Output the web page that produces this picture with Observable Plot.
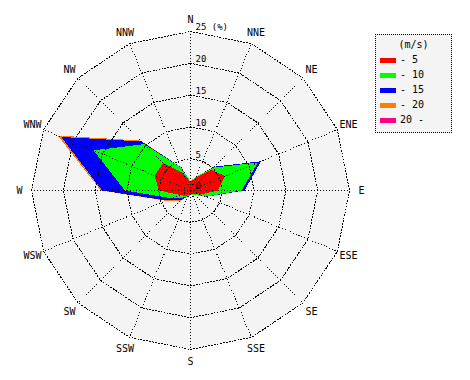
<!DOCTYPE html>
<html><head><meta charset="utf-8">
<script src="https://cdn.jsdelivr.net/npm/d3@7"></script>
<script src="https://cdn.jsdelivr.net/npm/@observablehq/plot@0.6"></script>
<style>
body{margin:0;background:#fff;font-family:"DejaVu Sans Mono",monospace;}
#wrap{position:relative;width:470px;height:380px;}
#legend{position:absolute;left:375px;top:34px;width:77px;height:99px;border:1px dotted #000;background:#f4f4f4;box-sizing:border-box;font-size:10px;color:#000;}
#legend .t{position:absolute;left:0;width:100%;top:4px;text-align:center;}
#legend .r{position:absolute;left:4px;height:12px;line-height:12px;}
#legend .sw{display:inline-block;width:16px;height:5px;vertical-align:middle;margin-right:4px;}
</style></head>
<body><div id="wrap"><div id="chart"></div><div id="legend"></div></div>
<script>
const directions = ["N","NNE","NE","ENE","E","ESE","SE","SSE","S","SSW","SW","WSW","W","WNW","NW","NNW"];
const classLabels = ["- 5","- 10","- 15","- 20","20 -"];
const classColors = ["#ff0000","#00ff00","#0000ff","#ff8000","#ff0080"];
// frequency (%) per direction for each speed class (not cumulative)
const s5   = [1.3, 2.2, 4.6, 5.9, 4.3, 1.7, 0.8, 0.6, 0.6, 0.8, 1.2, 1.8, 5.0, 6.1, 6.1, 3.0];
const s10  = [0.2, 0.2, 0.5, 5.6, 3.7, 0.8, 0.2, 0.1, 0.1, 0.2, 0.4, 1.4, 5.3, 10.4, 4.2, 0.9];
const s15  = [0.0, 0.0, 0.2, 0.5, 0.5, 0.1, 0.0, 0.0, 0.0, 0.0, 0.6, 0.9, 3.6, 5.5, 0.6, 0.1];
const s20  = [0.0, 0.0, 0.0, 0.0, 0.0, 0.0, 0.0, 0.0, 0.0, 0.0, 0.1, 0.1, 0.2, 0.6, 0.2, 0.0];
const s20p = [0.0, 0.0, 0.0, 0.0, 0.0, 0.0, 0.0, 0.0, 0.0, 0.0, 0.0, 0.0, 0.0, 0.0, 0.0, 0.0];
const ringTicks = [0, 5, 10, 15, 20, 25];
const ringLabels = ["0", "5", "10", "15", "20", "25 (%)"];
const rMax = 25;
const labelR = 26.9;

const series = [s5, s10, s15, s20, s20p];
const ang = i => i * 2 * Math.PI / directions.length;
// cumulative stacking
let cum = directions.map(() => 0);
const stacked = series.map((s, k) => {
  cum = cum.map((c, i) => c + s[i]);
  return {k, total: d3.sum(s), rows: cum.map((r, i) => ({k, i, x: r * Math.sin(ang(i)), y: r * Math.cos(ang(i))}))};
});
const ring = r => directions.map((d, i) => ({x: r * Math.sin(ang(i)), y: r * Math.cos(ang(i))}));
const spokes = directions.map((d, i) => ({x: rMax * Math.sin(ang(i)), y: rMax * Math.cos(ang(i))}));
const dirLabels = directions.map((d, i) => ({d, x: labelR * Math.sin(ang(i)), y: labelR * Math.cos(ang(i))}));
const tickLabels = ringTicks.map((t, j) => ({t, label: ringLabels[j]}));

const polyMarks = stacked.slice().reverse().filter(s => s.total > 0).map(s =>
  Plot.line(s.rows, {x: "x", y: "y", curve: "linear-closed", fill: classColors[s.k], stroke: "none", shapeRendering: "crispEdges"}));

const gridRings = ringTicks.filter(t => t > 0).map(t =>
  Plot.line(ring(t), {x: "x", y: "y", curve: "linear-closed", stroke: "#000", strokeWidth: 1, strokeDasharray: "1,2", fill: "none", shapeRendering: "crispEdges"}));

const chart = Plot.plot({
  width: 470, height: 380, margin: 0,
  x: {domain: [-rMax, rMax], range: [31, 349], axis: null},
  y: {domain: [-rMax, rMax], range: [349, 31], axis: null},
  style: {fontFamily: "'DejaVu Sans Mono', monospace", background: "transparent"},
  marks: [
    Plot.line(ring(rMax), {x: "x", y: "y", curve: "linear-closed", fill: "#f4f4f4", stroke: "none"}),
    ...polyMarks,
    ...gridRings,
    Plot.link(spokes, {x1: 0, y1: 0, x2: "x", y2: "y", stroke: "#000", strokeDasharray: "1,2", shapeRendering: "crispEdges"}),
    Plot.text(dirLabels, {x: "x", y: "y", text: "d", fontSize: 10, fill: "#000", textAnchor: "middle"}),
    Plot.text(tickLabels, {x: 0, y: "t", text: "label", fontSize: 9, fill: "#000", textAnchor: "start", dx: 5, dy: -4})
  ]
});
document.getElementById("chart").appendChild(chart);

const lg = document.getElementById("legend");
lg.innerHTML = '<div class="t">(m/s)</div>' + classLabels.map((c, k) =>
  `<div class="r" style="top:${19 + k * 15}px"><span class="sw" style="background:${classColors[k]}"></span>${c}</div>`).join("");
</script>
</body></html>
